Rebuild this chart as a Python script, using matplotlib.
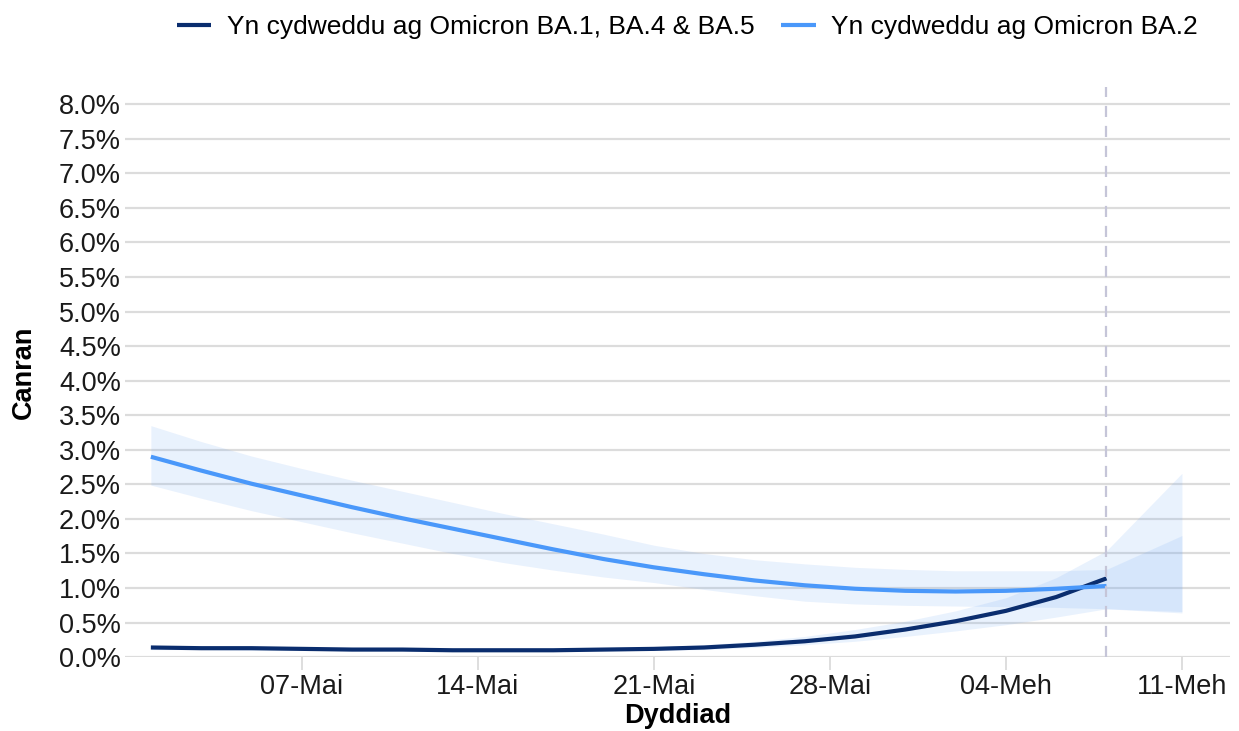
import numpy as np
import pandas as pd
import matplotlib
matplotlib.use("Agg")
import matplotlib.pyplot as plt

plt.rcParams['font.family'] = ['Liberation Sans', 'DejaVu Sans']

# modelled dates, every 2 days to 08 Jun; the ribbons run on to 11 Jun
dates = pd.to_datetime(["2022-05-01", "2022-05-03", "2022-05-05", "2022-05-07", "2022-05-09",
                        "2022-05-11", "2022-05-13", "2022-05-15", "2022-05-17", "2022-05-19",
                        "2022-05-21", "2022-05-23", "2022-05-25", "2022-05-27", "2022-05-29",
                        "2022-05-31", "2022-06-02", "2022-06-04", "2022-06-06", "2022-06-08",
                        "2022-06-11"])

# BA.1, BA.4 & BA.5 (%)
ba45 = [0.14, 0.13, 0.13, 0.12, 0.11, 0.11, 0.10, 0.10, 0.10, 0.11,
        0.12, 0.14, 0.18, 0.23, 0.30, 0.40, 0.52, 0.67, 0.87, 1.14]
ba45_lo = [0.11, 0.11, 0.10, 0.10, 0.09, 0.09, 0.08, 0.08, 0.08, 0.09,
           0.10, 0.11, 0.14, 0.18, 0.23, 0.30, 0.38, 0.47, 0.58, 0.70, 0.66]
ba45_hi = [0.17, 0.16, 0.15, 0.14, 0.13, 0.13, 0.12, 0.12, 0.12, 0.13,
           0.15, 0.18, 0.23, 0.30, 0.40, 0.52, 0.67, 0.86, 1.15, 1.54, 2.66]

# BA.2 (%)
ba2 = [2.90, 2.70, 2.51, 2.34, 2.17, 2.01, 1.86, 1.71, 1.56, 1.42,
       1.30, 1.20, 1.11, 1.04, 0.99, 0.96, 0.95, 0.96, 0.99, 1.03]
ba2_lo = [2.49, 2.30, 2.12, 1.96, 1.80, 1.65, 1.50, 1.37, 1.26, 1.16,
          1.08, 0.98, 0.89, 0.81, 0.77, 0.75, 0.74, 0.73, 0.72, 0.70, 0.64]
ba2_hi = [3.35, 3.12, 2.91, 2.73, 2.56, 2.40, 2.24, 2.08, 1.93, 1.78,
          1.62, 1.50, 1.41, 1.35, 1.30, 1.27, 1.25, 1.25, 1.25, 1.27, 1.76]

labels = ["Yn cydweddu ag Omicron BA.1, BA.4 & BA.5", "Yn cydweddu ag Omicron BA.2"]
tick_dates = pd.to_datetime(["2022-05-07", "2022-05-14", "2022-05-21", "2022-05-28", "2022-06-04", "2022-06-11"])
tick_labels = ["07-Mai", "14-Mai", "21-Mai", "28-Mai", "04-Meh", "11-Meh"]
cutoff = pd.Timestamp("2022-06-08")

dark = "#0a2d6e"
light = "#4a98fa"
band = "#6fa8f5"

fig = plt.figure(figsize=(12.39, 7.31), dpi=100)
ax = fig.add_axes([0.1009, 0.101, 0.8918, 0.780])

ax.fill_between(dates, ba45_lo, ba45_hi, color=band, alpha=0.15, lw=0)
ax.fill_between(dates, ba2_lo, ba2_hi, color=band, alpha=0.15, lw=0)
ax.plot(dates[:-1], ba45, color=dark, lw=3, label=labels[0], solid_capstyle="butt")
ax.plot(dates[:-1], ba2, color=light, lw=3, label=labels[1], solid_capstyle="butt")
ax.axvline(cutoff, color="#c5c5d8", lw=1.6, ls=(0, (5, 4)))

ax.set_xlim(pd.Timestamp("2022-04-29 23:20"), pd.Timestamp("2022-06-12 21:50"))
ax.set_ylim(0, 8.25)
yt = np.arange(0, 8.01, 0.5)
ax.set_yticks(yt)
ax.set_yticklabels([f"{v:.1f}%" for v in yt], fontsize=19.5, color="#1a1a1a")
ax.set_xticks(tick_dates)
ax.set_xticklabels(tick_labels, fontsize=19.5, color="#1a1a1a")
ax.grid(axis="y", color="#dcdcdc", lw=1.6)
ax.set_axisbelow(True)
for s in ax.spines.values():
    s.set_visible(False)
ax.tick_params(axis="y", length=0, pad=3)
ax.tick_params(axis="x", length=9, color="#d8d8d8", width=1.2, pad=3)

ax.set_xlabel("Dyddiad", fontsize=19.5, fontweight="bold", labelpad=2)
ax.set_ylabel("Canran", fontsize=19.5, fontweight="bold", labelpad=16)

fig.legend(loc="upper center", bbox_to_anchor=(0.555, 1.012), ncol=2, frameon=False,
           fontsize=19, handlelength=1.3, handletextpad=0.6, columnspacing=1.0)

fig.savefig("out.png", dpi=100)
